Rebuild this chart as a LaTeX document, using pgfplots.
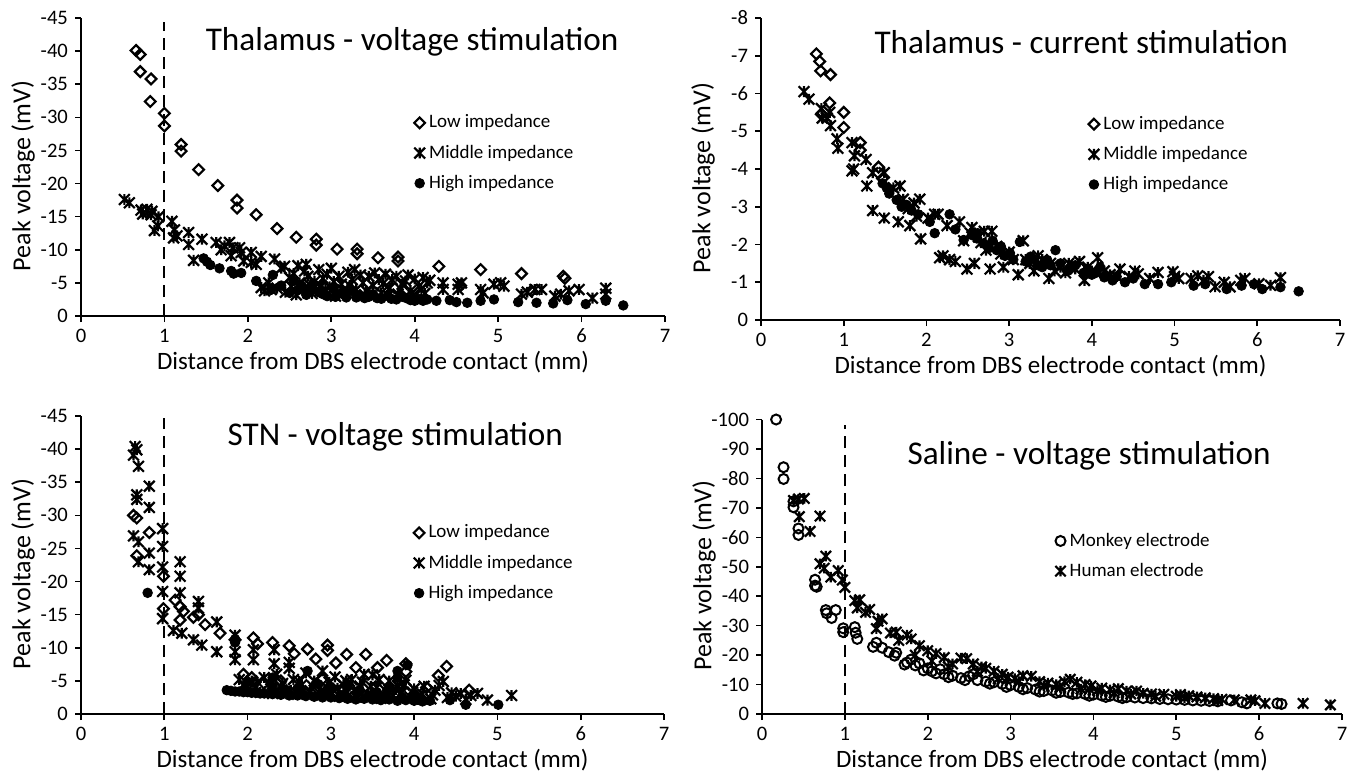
\documentclass[border=0pt]{standalone}
\usepackage{fontspec}
\setmainfont{Carlito}
\usepackage{pgfplots}
\pgfplotsset{compat=1.18}

% X with a vertical stroke, like the spreadsheet "star" marker
\pgfdeclareplotmark{xstar}{%
  \pgfpathmoveto{\pgfqpoint{-\pgfplotmarksize}{-\pgfplotmarksize}}%
  \pgfpathlineto{\pgfqpoint{\pgfplotmarksize}{\pgfplotmarksize}}%
  \pgfpathmoveto{\pgfqpoint{-\pgfplotmarksize}{\pgfplotmarksize}}%
  \pgfpathlineto{\pgfqpoint{\pgfplotmarksize}{-\pgfplotmarksize}}%
  \pgfpathmoveto{\pgfqpoint{0pt}{-\pgfplotmarksize}}%
  \pgfpathlineto{\pgfqpoint{0pt}{\pgfplotmarksize}}%
  \pgfusepathqstroke}

\tikzset{ttl/.style={font=\fontsize{16.6}{20}\selectfont, anchor=center}}

\pgfplotsset{
  panel/.style={
    scale only axis, clip=false,
    xmin=0, xmax=7, xtick={0,...,7}, ymax=0,
    y dir=reverse,
    axis x line=bottom, axis y line=left,
    axis line style={-, line width=0.8pt},
    tick align=outside, major tick length=3pt,
    tick style={black, line width=0.8pt},
    ticklabel style={font=\fontsize{10.3}{12}\selectfont},
    /pgf/number format/assume math mode=true,
    xlabel style={at={([yshift=-23pt]axis description cs:0.5,0)}, anchor=center, font=\fontsize{12.5}{15}\selectfont},
    ylabel style={at={([xshift=-29pt]axis description cs:0,0.47)}, anchor=center, rotate=0, font=\fontsize{13}{15}\selectfont},
    xlabel={Distance from DBS electrode contact (mm)},
    ylabel={Peak voltage (mV)},
    legend style={draw=none, fill=none, anchor=north west, font=\fontsize{9.5}{11}\selectfont,
      row sep=3pt, inner sep=0pt},
    legend cell align=left,
    legend image code/.code={\draw[mark repeat=2,mark phase=2,#1] plot coordinates {(0pt,0pt) (3pt,0pt) (6pt,0pt)};},
  },
  low/.style={only marks, mark=square, mark size=1.9pt, mark options={rotate=45, fill=white, draw=black, line width=1.1pt}},
  mid/.style={only marks, mark=xstar, mark size=2.7pt, mark options={draw=black, line width=1.1pt}},
  high/.style={only marks, mark=*, mark size=2.4pt, mark options={fill=black, draw=black}},
  monkey/.style={only marks, mark=o, mark size=2.5pt, mark options={draw=black, line width=1pt}},
  human/.style={only marks, mark=xstar, mark size=2.6pt, mark options={draw=black, line width=1.1pt}},
  vdash/.style={black, line width=1pt, dash pattern=on 6pt off 3.5pt, forget plot},
}

\begin{document}
\begin{tikzpicture}
\path[use as bounding box] (0,0) rectangle (673.5pt,389pt);

% ---------- Thalamus - voltage ----------
\begin{axis}[panel, at={(40.5pt,231pt)}, anchor=south west, width=292pt, height=149pt,
  ymin=-45, ytick={0,-5,...,-45},
  legend style={at={(axis description cs:0.57,0.69)}}]
\addplot[vdash] coordinates {(1,0) (1,-44.4)};
\addplot[low] coordinates {
(0.66,-40.1)(0.71,-39.5)(0.71,-36.9)(0.84,-35.8)(0.83,-32.4)(1.0,-30.6)(1.0,-28.7)
(1.2,-25.9)(1.2,-24.9)(1.41,-22.1)(1.64,-19.7)(1.87,-17.5)(1.87,-16.3)(2.1,-15.3)
(2.35,-13.2)(2.58,-11.9)(2.82,-11.6)(2.82,-10.7)(3.07,-10.1)(3.31,-10.1)(3.31,-9.4)
(3.56,-8.8)(3.8,-8.9)(3.8,-8.3)(4.29,-7.5)(4.79,-7.0)(5.28,-6.4)(5.78,-6.0)(5.8,-5.7)
(4.55,-4.6)(5.4,-3.8)
};
\addlegendentry{Low impedance}
\addplot[mid] coordinates {
(0.52,-17.6)(0.58,-17.1)(0.72,-16.0)(0.74,-15.4)(0.79,-16.1)(0.85,-15.8)(0.84,-15.3)
(0.93,-15.0)(0.92,-13.6)(0.88,-12.9)(1.09,-14.3)(1.11,-11.8)(1.15,-12.1)(1.12,-13.0)
(1.29,-12.6)(1.29,-10.8)(1.45,-11.6)(1.35,-8.4)(1.62,-11.1)(1.68,-10.0)(1.72,-10.6)
(1.78,-11.1)(1.8,-9.1)(1.82,-10.3)(1.9,-10.3)(1.92,-9.6)(1.95,-8.3)(2.04,-9.6)
(2.04,-8.1)(2.1,-7.8)(2.16,-9.0)(2.16,-4.3)(2.2,-3.8)(2.28,-4.0)(2.32,-8.6)(2.4,-7.2)
(2.44,-7.5)(2.45,-3.6)(2.52,-4.5)(2.55,-6.4)(2.6,-7.6)(2.62,-5.0)(2.66,-4.0)(2.7,-7.8)
(2.72,-6.0)(2.77,-3.4)(2.8,-5.2)(2.85,-7.0)(2.88,-4.5)(2.93,-4.0)(2.95,-6.3)(3.0,-7.2)
(3.05,-3.0)(3.09,-6.0)(3.12,-4.8)(3.18,-3.5)(3.2,-6.6)(3.25,-5.5)(3.3,-4.0)(3.35,-6.2)
(3.4,-3.2)(3.45,-6.0)(3.5,-4.6)(3.57,-5.5)(3.6,-3.5)(3.65,-6.3)(3.7,-4.2)(3.73,-5.5)
(3.8,-3.3)(3.85,-4.8)(3.89,-5.3)(3.95,-3.8)(4.0,-5.6)(4.05,-4.5)(4.1,-5.8)(4.12,-3.4)
(4.15,-5.0)(4.34,-5.0)(4.34,-4.0)(4.52,-4.8)(4.52,-4.0)(4.56,-5.0)(4.79,-4.0)(4.82,-3.5)
(4.95,-4.8)(5.03,-5.0)(5.07,-4.5)(5.28,-3.3)(5.35,-3.6)(5.44,-4.0)(5.52,-4.0)(5.68,-3.0)
(5.75,-3.3)(5.85,-3.8)(5.97,-4.0)(6.13,-2.7)(6.29,-4.2)(6.29,-3.3)
(2.25,-5.0)(2.35,-4.2)(2.5,-5.8)(2.58,-3.2)(2.68,-6.8)(2.75,-4.6)(2.82,-3.9)(2.9,-5.7)
(2.98,-4.4)(3.03,-5.2)(3.14,-3.9)(3.22,-4.6)(3.28,-7.0)(3.38,-5.0)(3.42,-3.8)(3.52,-6.5)
(3.62,-4.9)(3.68,-3.1)(3.78,-6.0)(3.83,-4.1)(3.92,-6.2)(3.98,-3.1)(4.08,-4.0)(4.18,-5.4)
};
\addlegendentry{Middle impedance}
\addplot[high] coordinates {
(1.47,-8.7)(1.51,-8.2)(1.55,-7.7)(1.66,-7.2)(1.8,-6.8)(1.83,-6.4)(1.92,-6.5)(2.1,-5.3)
(2.3,-6.2)(2.28,-4.0)(2.4,-4.6)(2.5,-3.5)(2.55,-5.3)(2.65,-4.5)(2.7,-3.2)(2.78,-4.8)
(2.85,-3.6)(2.95,-3.0)(3.02,-4.2)(3.1,-3.4)(3.18,-2.8)(3.25,-3.8)(3.32,-3.1)(3.4,-2.7)
(3.5,-3.3)(3.6,-2.6)(3.68,-3.0)(3.78,-2.5)(3.85,-2.9)(3.95,-2.4)(4.05,-2.6)(4.1,-2.3)
(4.26,-2.3)(4.42,-2.4)(4.5,-2.1)(4.63,-2.0)(4.79,-2.3)(4.95,-2.5)(5.24,-2.1)(5.46,-2.0)
(5.66,-1.9)(5.83,-2.4)(6.05,-1.8)(6.29,-2.3)(6.5,-1.6)
(2.6,-3.9)(2.75,-4.0)(2.9,-3.3)(3.05,-2.9)(3.15,-3.6)(3.3,-2.8)(3.45,-2.9)(3.55,-2.7)
(3.72,-2.6)(3.9,-2.7)(4.0,-2.3)(4.15,-2.5)
};
\addlegendentry{High impedance}
\node[ttl] at (axis description cs:0.567,0.92) {Thalamus - voltage stimulation};
\end{axis}

% ---------- Thalamus - current ----------
\begin{axis}[panel, at={(380.5pt,229pt)}, anchor=south west, width=289.5pt, height=151pt,
  ymin=-8, ytick={0,-1,...,-8},
  legend style={at={(axis description cs:0.565,0.69)}}]
\addplot[low] coordinates {
(0.67,-7.05)(0.71,-6.85)(0.72,-6.6)(0.84,-6.5)(0.83,-5.75)(1.0,-5.5)(1.0,-5.1)
(1.2,-4.7)(1.2,-4.5)(1.42,-4.05)(0.73,-5.45)(1.47,-3.75)
};
\addlegendentry{Low impedance}
\addplot[mid] coordinates {
(0.52,-6.05)(0.58,-5.85)(0.73,-5.6)(0.74,-5.35)(0.8,-5.35)(0.83,-5.5)(0.84,-5.15)
(0.92,-4.8)(0.93,-4.55)(1.1,-4.7)(1.13,-4.35)(1.1,-3.95)(1.12,-4.0)(1.27,-4.25)
(1.28,-3.55)(1.35,-3.9)(1.35,-2.9)(1.49,-3.9)(1.49,-2.7)(1.66,-2.6)(1.68,-3.55)
(1.8,-2.5)(1.85,-3.1)(1.92,-3.2)(1.93,-2.15)(2.1,-2.8)(2.14,-2.8)(2.16,-1.65)(2.2,-1.7)
(2.28,-1.6)(2.35,-1.55)(2.4,-2.6)(2.49,-1.35)(2.53,-2.3)(2.58,-1.5)(2.63,-2.2)(2.7,-2.35)
(2.77,-1.35)(2.79,-2.35)(2.85,-1.95)(2.93,-1.4)(3.0,-1.8)(3.11,-1.2)(3.17,-2.1)(3.2,-1.6)
(3.3,-1.3)(3.35,-1.7)(3.48,-1.1)(3.5,-1.5)(3.62,-1.4)(3.72,-1.5)(3.8,-1.35)(3.91,-1.05)
(3.95,-1.4)(4.07,-1.65)(4.15,-1.3)(4.22,-1.2)(4.34,-1.35)(4.45,-1.15)(4.56,-1.22)
(4.8,-1.26)(4.98,-1.28)(5.05,-1.1)(5.2,-1.1)(5.28,-1.17)(5.41,-1.15)(5.49,-0.88)
(5.67,-0.88)(5.8,-1.05)(5.85,-1.1)(6.02,-0.96)(6.16,-0.92)(6.28,-1.12)
(1.6,-3.5)(1.72,-3.2)(1.78,-2.95)(1.88,-2.75)(2.02,-2.7)(2.25,-2.5)(2.45,-2.1)(2.55,-2.45)
(2.66,-2.05)(2.72,-1.85)(2.9,-1.75)(3.05,-1.6)(3.25,-1.5)(3.4,-1.6)(3.55,-1.3)(3.68,-1.25)
(3.85,-1.55)(4.0,-1.3)(4.3,-1.15)(4.52,-1.3)(4.7,-1.1)(5.0,-1.15)(5.35,-1.05)(5.6,-1.0)
};
\addlegendentry{Middle impedance}
\addplot[high] coordinates {
(1.47,-3.62)(1.52,-3.5)(1.55,-3.35)(1.64,-3.18)(1.7,-3.0)(1.76,-3.05)(1.82,-2.9)
(1.9,-2.8)(2.04,-2.6)(2.1,-2.3)(2.28,-2.8)(2.35,-2.4)(2.45,-2.12)(2.55,-2.25)(2.61,-2.16)
(2.69,-2.03)(2.75,-1.9)(2.85,-1.85)(2.95,-1.7)(3.01,-1.77)(3.13,-2.07)(3.2,-1.55)
(3.26,-1.68)(3.35,-1.45)(3.46,-1.59)(3.56,-1.85)(3.62,-1.5)(3.7,-1.3)(3.8,-1.45)
(3.9,-1.25)(4.0,-1.2)(4.1,-1.4)(4.15,-1.13)(4.25,-1.05)(4.4,-1.0)(4.5,-1.1)(4.64,-0.95)
(4.8,-0.95)(4.96,-1.0)(5.23,-0.91)(5.37,-0.95)(5.63,-0.82)(5.81,-0.91)(5.96,-0.95)
(6.06,-0.82)(6.28,-0.87)(6.5,-0.76)
(2.62,-2.3)(2.8,-2.1)(2.9,-1.95)(3.05,-1.6)(3.3,-1.6)(3.4,-1.4)(3.5,-1.45)(3.75,-1.4)
(3.95,-1.35)(4.05,-1.25)(4.3,-1.15)
};
\addlegendentry{High impedance}
\node[ttl] at (axis description cs:0.553,0.92) {Thalamus - current stimulation};
\end{axis}

% ---------- STN - voltage ----------
\begin{axis}[panel, at={(40.5pt,32pt)}, anchor=south west, width=291.5pt, height=149pt,
  ymin=-45, ytick={0,-5,...,-45},
  legend style={at={(axis description cs:0.57,0.65)}}]
\addplot[vdash] coordinates {(1,0) (1,-44.7)};
\addplot[low] coordinates {
(0.63,-30.0)(0.67,-29.6)(0.82,-27.4)(0.67,-23.9)(0.99,-20.8)(0.99,-15.9)(1.13,-17.2)
(1.19,-16.2)(1.23,-15.5)(1.19,-14.2)(1.35,-14.6)(1.41,-15.0)(1.49,-13.5)(1.67,-12.2)
(1.85,-11.2)(2.07,-11.5)(2.12,-10.6)(2.3,-10.8)(2.5,-10.3)(2.56,-9.1)(2.72,-9.8)
(2.82,-8.3)(2.96,-10.4)(2.96,-9.6)(3.06,-7.7)(3.19,-9.0)(3.3,-7.0)(3.42,-9.0)(3.56,-7.0)
(3.67,-8.1)(3.9,-7.6)(3.9,-6.4)(4.29,-5.8)(4.39,-7.2)(4.66,-3.6)(2.05,-5.5)(2.4,-5.0)
(2.9,-5.3)(3.2,-4.5)(4.15,-4.0)(1.95,-6.0)
};
\addlegendentry{Low impedance}
\addplot[mid] coordinates {
(0.65,-40.4)(0.67,-39.9)(0.63,-39.1)(0.69,-37.4)(0.82,-34.4)(0.67,-33.1)(0.67,-32.4)
(0.82,-31.2)(0.63,-26.9)(0.69,-26.0)(0.69,-23.0)(0.82,-24.3)(0.82,-21.8)(0.98,-28.0)
(0.98,-25.3)(0.98,-22.2)(0.98,-18.5)(0.98,-14.4)(1.19,-23.0)(1.19,-20.8)(1.19,-18.3)
(1.11,-12.6)(1.21,-12.2)(1.41,-17.0)(1.41,-16.0)(1.35,-11.2)(1.45,-10.4)(1.63,-13.9)
(1.63,-9.4)(1.85,-11.9)(1.85,-9.4)(1.85,-8.2)(2.07,-9.7)(2.07,-8.2)(2.32,-9.7)(2.32,-7.6)
(2.5,-6.9)(2.5,-7.8)
(1.9,-5.2)(1.95,-4.4)(2.0,-3.6)(2.05,-5.0)(2.1,-4.1)(2.15,-3.3)(2.2,-5.5)(2.25,-4.5)
(2.3,-3.1)(2.35,-6.0)(2.4,-4.0)(2.45,-3.4)(2.55,-5.2)(2.6,-3.0)(2.65,-4.4)(2.7,-6.2)
(2.75,-3.5)(2.8,-5.0)(2.85,-2.9)(2.9,-6.5)(2.95,-4.0)(3.0,-3.2)(3.05,-5.6)(3.1,-2.7)
(3.15,-4.4)(3.2,-3.3)(3.25,-5.2)(3.3,-2.6)(3.35,-4.2)(3.4,-6.0)(3.45,-3.0)(3.5,-5.9)
(3.55,-4.0)(3.6,-2.4)(3.65,-3.6)(3.7,-5.0)(3.75,-2.8)(3.8,-4.3)(3.85,-3.2)(3.9,-5.1)
(3.95,-2.6)(4.0,-3.8)(4.05,-2.2)(4.1,-3.0)(4.2,-2.3)(4.25,-3.6)(4.35,-4.9)(4.4,-2.5)
(4.45,-3.2)(4.56,-3.1)(4.62,-2.2)(4.76,-3.1)(4.88,-2.1)(5.17,-2.8)
(1.98,-4.0)(2.12,-4.8)(2.28,-3.8)(2.42,-4.6)(2.52,-3.6)(2.62,-4.9)(2.78,-4.2)(2.88,-3.5)
(2.98,-4.8)(3.08,-3.9)(3.18,-5.0)(3.28,-3.6)(3.38,-4.8)(3.48,-4.2)(3.58,-5.2)(3.68,-2.9)
(3.78,-3.7)(3.88,-4.4)(3.98,-3.3)(4.12,-4.2)(4.22,-2.9)(4.3,-4.3)(4.5,-2.7)(4.68,-2.8)
};
\addlegendentry{Middle impedance}
\addplot[high] coordinates {
(0.8,-18.3)(1.85,-10.8)(1.85,-11.3)
(1.75,-3.6)(1.8,-3.5)(1.85,-3.4)(1.9,-3.4)(1.95,-3.3)(2.0,-3.3)(2.05,-3.2)(2.1,-3.2)
(2.15,-3.1)(2.2,-3.1)(2.3,-3.0)(2.4,-2.9)(2.5,-2.8)(2.6,-2.8)(2.7,-2.7)(2.8,-2.6)
(2.9,-2.5)(3.0,-2.5)(3.1,-2.4)(3.2,-2.3)(3.3,-2.2)(3.4,-2.3)(3.5,-2.2)(3.6,-2.1)
(3.7,-2.2)(3.8,-2.0)(3.9,-2.1)(4.0,-2.0)(4.1,-1.9)(4.19,-2.0)(4.43,-2.1)(4.62,-1.4)
(5.01,-1.4)(2.0,-4.8)(2.3,-4.2)(2.6,-3.8)(2.85,-4.5)(3.0,-3.7)(3.2,-4.2)(3.35,-3.5)
(3.55,-3.3)(3.8,-6.5)(3.8,-5.5)(3.92,-7.4)(3.7,-4.0)(4.0,-3.0)(2.72,-6.5)(2.3,-5.5)
(2.45,-3.5)(2.65,-3.3)(2.95,-3.1)(3.15,-2.9)(3.45,-2.8)(3.65,-2.7)(3.85,-2.6)(4.05,-2.5)
};
\addlegendentry{High impedance}
\node[ttl] at (axis description cs:0.539,0.93) {STN - voltage stimulation};
\end{axis}

% ---------- Saline - voltage ----------
\begin{axis}[panel, at={(381pt,32pt)}, anchor=south west, width=290pt, height=147.25pt,
  ymin=-100, ytick={0,-10,...,-100},
  legend style={at={(axis description cs:0.505,0.63)}}]
\addplot[vdash] coordinates {(1,0) (1,-98.3)};
\addplot[monkey] coordinates {
(0.17,-100)(0.26,-83.8)(0.26,-79.8)(0.38,-72.2)(0.38,-70.2)(0.44,-63.0)(0.44,-60.8)
(0.64,-45.6)(0.64,-43.6)(0.66,-43.2)(0.77,-35.3)(0.78,-34.2)(0.84,-32.6)(0.89,-35.3)
(0.98,-29.1)(0.98,-27.8)(1.12,-29.5)(1.13,-27.6)(1.15,-25.5)(1.34,-22.8)(1.38,-24.2)
(1.45,-22.5)(1.53,-21.0)(1.6,-19.8)(1.62,-20.8)(1.75,-17.5)(1.8,-18.5)(1.85,-16.5)
(1.9,-17.2)(2.0,-15.5)(2.05,-14.5)(2.15,-15.2)(2.2,-13.5)(2.3,-13.0)(2.4,-12.2)
(2.5,-12.8)(2.6,-11.5)(2.7,-11.0)(2.8,-10.8)(2.9,-10.2)(3.0,-9.8)(3.1,-9.2)(3.2,-8.8)
(3.3,-8.3)(3.4,-7.8)(3.5,-8.0)(3.6,-7.5)(3.7,-7.3)(3.8,-7.0)(3.9,-6.8)(4.0,-6.6)
(4.1,-6.3)(4.2,-6.2)(4.3,-5.9)(4.4,-5.7)(4.5,-5.6)(4.6,-5.4)(4.7,-5.3)(4.8,-5.1)
(4.9,-5.0)(5.0,-4.9)(5.1,-4.8)(5.2,-4.6)(5.3,-4.5)(5.4,-4.4)(5.5,-4.3)(5.66,-4.6)
(5.79,-4.0)(5.85,-3.6)(6.22,-3.6)(6.27,-3.4)
(1.72,-16.8)(1.95,-14.8)(2.1,-13.8)(2.25,-12.5)(2.45,-11.5)(2.55,-13.5)(2.75,-10.3)
(2.95,-9.2)(3.15,-8.4)(3.35,-7.6)(3.55,-7.2)(3.75,-6.8)(3.95,-6.2)(4.15,-5.8)(4.35,-5.4)
};
\addlegendentry{Monkey electrode}
\addplot[human] coordinates {
(0.38,-72.5)(0.44,-73.0)(0.51,-73.2)(0.45,-67.0)(0.7,-67.2)(0.58,-62.0)(0.7,-51.0)
(0.77,-53.6)(0.75,-49.5)(0.83,-46.5)(0.92,-48.7)(0.97,-45.5)(1.0,-43.0)(1.12,-38.5)
(1.18,-38.8)(1.15,-36.0)(1.25,-34.5)(1.3,-35.5)(1.4,-31.5)(1.45,-32.3)(1.38,-29.0)
(1.55,-27.5)(1.62,-27.8)(1.65,-25.0)(1.75,-26.8)(1.8,-25.5)(1.9,-23.2)(2.0,-21.5)
(2.1,-20.5)(2.2,-19.2)(2.3,-17.0)(2.4,-19.0)(2.47,-18.8)(2.55,-17.0)(2.65,-16.0)
(2.7,-15.5)(2.8,-14.5)(2.9,-13.5)(2.97,-12.5)(3.05,-12.0)(3.15,-13.0)(3.25,-12.8)
(3.35,-11.0)(3.45,-10.5)(3.55,-10.0)(3.65,-11.0)(3.72,-11.8)(3.8,-10.8)(3.9,-10.0)
(3.97,-9.5)(4.1,-8.8)(4.2,-8.2)(4.3,-8.6)(4.4,-7.8)(4.52,-7.8)(4.6,-7.0)(4.7,-6.8)
(4.85,-6.7)(5.0,-6.0)(5.05,-6.6)(5.15,-6.2)(5.25,-5.8)(5.35,-5.5)(5.45,-5.2)(5.55,-5.0)
(5.7,-4.8)(5.9,-4.8)(5.95,-4.5)(6.07,-3.6)(6.53,-3.6)(6.86,-3.1)
(1.85,-20.0)(2.05,-18.0)(2.25,-16.0)(2.6,-14.5)(2.85,-12.0)(3.1,-11.0)(3.4,-9.5)
(3.6,-9.0)(3.85,-8.5)(4.05,-8.0)(4.25,-7.2)(4.45,-6.8)(4.75,-6.0)(5.1,-5.5)(5.5,-4.6)
};
\addlegendentry{Human electrode}
\node[ttl] at (axis description cs:0.564,0.878) {Saline - voltage stimulation};
\end{axis}
\end{tikzpicture}
\end{document}
